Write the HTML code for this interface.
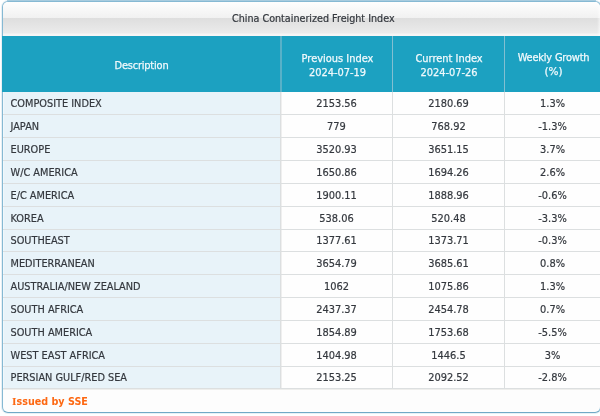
<!DOCTYPE html>
<html>
<head>
<meta charset="utf-8">
<style>
html,body{margin:0;padding:0;background:#fff;width:600px;height:416px;overflow:hidden;position:relative;}
body{font-family:"DejaVu Sans","Liberation Sans",sans-serif;font-size:9.85px;color:#34383e;-webkit-text-stroke:0.2px #34383e;}
#topline{position:absolute;left:7px;top:0;width:589px;height:1px;background:#b3d3e4;}
#box{position:absolute;left:2px;top:1px;width:597px;height:410px;border:1px solid #86b9d3;border-bottom-color:#70a9c6;border-radius:6px;background:#fdfdfd;overflow:hidden;box-shadow:0 0 0 1px rgba(120,170,200,.18);}
#rf{position:absolute;left:594px;top:0;width:3px;height:34px;background:linear-gradient(to right,rgba(255,255,255,0),rgba(255,255,255,.55));}
#title{position:absolute;left:0;top:0;width:597px;height:34px;
 background:linear-gradient(to bottom,#fefefe 0px,#f1f1f1 16px,#dedede 16px,#ebebeb 31px,#f5f5f5 32px,#f7f5f5 34px);}
#title span{position:absolute;left:229px;top:11px;font-size:9.6px;white-space:nowrap;}
#head{position:absolute;left:2px;top:36px;width:600px;height:56px;background:#1ca1c1;color:#f0f9fc;-webkit-text-stroke:0.25px #f0f9fc;}
#head div{position:absolute;top:0;height:56px;text-align:center;line-height:14.2px;white-space:nowrap;}
#head .v{position:absolute;top:0;width:1px;height:56px;background:#82bfd1;}
table{position:absolute;left:3px;top:92px;border-collapse:separate;border-spacing:0;table-layout:fixed;width:597px;}
td{padding:0;border-bottom:1px solid #dcdfe0;border-right:1px solid #dcdfe0;text-align:center;white-space:nowrap;overflow:hidden;background:#fefefe;}
td.d{background:#e8f3f9;box-shadow:inset 1px 0 0 #f1f8fc;text-align:left;padding-left:7.5px;font-size:9.75px;}
td.l{border-right:0;}
td.c2{box-shadow:inset 1px 0 0 #efefef;}
tr.r td{height:22px;}
tr.s td{height:21px;}
#foot{position:absolute;left:3px;top:389px;width:597px;height:23px;box-shadow:inset 0 1px 0 #eeeeec;}
#foot span{position:absolute;left:9px;top:7px;font-size:9.6px;font-weight:bold;color:#fd6812;-webkit-text-stroke:0;white-space:nowrap;}
</style>
</head>
<body>
<div id="topline"></div>
<div id="box"><div id="title"><span>China Containerized Freight Index</span></div><div id="rf"></div></div>
<div id="head">
 <div style="left:0;width:279px;top:22.5px;height:14px;letter-spacing:-0.2px;">Description</div>
 <div class="v" style="left:278px;width:2px;background:#58b1c8"></div>
 <div style="left:280px;width:111px;top:15.5px;height:30px;">Previous Index<br>2024-07-19</div>
 <div class="v" style="left:390px"></div>
 <div style="left:391px;width:112px;top:15.5px;height:30px;">Current Index<br>2024-07-26</div>
 <div class="v" style="left:502px"></div>
 <div style="left:503px;width:97px;top:15.5px;height:30px;"><p style="margin:-0.5px 0 0;height:13.2px;letter-spacing:-0.2px">Weekly Growth</p><p style="margin:0;height:14.2px;font-size:10.5px">(%)</p></div>
</div>
<table>
<colgroup><col style="width:278px"><col style="width:112px"><col style="width:112px"><col style="width:95px"></colgroup>
<tr class="r"><td class="d">COMPOSITE INDEX</td><td class="c2">2153.56</td><td>2180.69</td><td class="l">1.3%</td></tr>
<tr class="r"><td class="d">JAPAN</td><td class="c2">779</td><td>768.92</td><td class="l">-1.3%</td></tr>
<tr class="r"><td class="d">EUROPE</td><td class="c2">3520.93</td><td>3651.15</td><td class="l">3.7%</td></tr>
<tr class="r"><td class="d">W/C AMERICA</td><td class="c2">1650.86</td><td>1694.26</td><td class="l">2.6%</td></tr>
<tr class="r"><td class="d">E/C AMERICA</td><td class="c2">1900.11</td><td>1888.96</td><td class="l">-0.6%</td></tr>
<tr class="r"><td class="d">KOREA</td><td class="c2">538.06</td><td>520.48</td><td class="l">-3.3%</td></tr>
<tr class="s"><td class="d">SOUTHEAST</td><td class="c2">1377.61</td><td>1373.71</td><td class="l">-0.3%</td></tr>
<tr class="r"><td class="d">MEDITERRANEAN</td><td class="c2">3654.79</td><td>3685.61</td><td class="l">0.8%</td></tr>
<tr class="r"><td class="d">AUSTRALIA/NEW ZEALAND</td><td class="c2">1062</td><td>1075.86</td><td class="l">1.3%</td></tr>
<tr class="r"><td class="d">SOUTH AFRICA</td><td class="c2">2437.37</td><td>2454.78</td><td class="l">0.7%</td></tr>
<tr class="r"><td class="d">SOUTH AMERICA</td><td class="c2">1854.89</td><td>1753.68</td><td class="l">-5.5%</td></tr>
<tr class="r"><td class="d">WEST EAST AFRICA</td><td class="c2">1404.98</td><td>1446.5</td><td class="l">3%</td></tr>
<tr class="s"><td class="d">PERSIAN GULF/RED SEA</td><td class="c2">2153.25</td><td>2092.52</td><td class="l">-2.8%</td></tr>
</table>
<div id="foot"><span><b style="font-family:'DejaVu Serif',serif">I</b>ssued by SSE</span></div>
</body>
</html>
